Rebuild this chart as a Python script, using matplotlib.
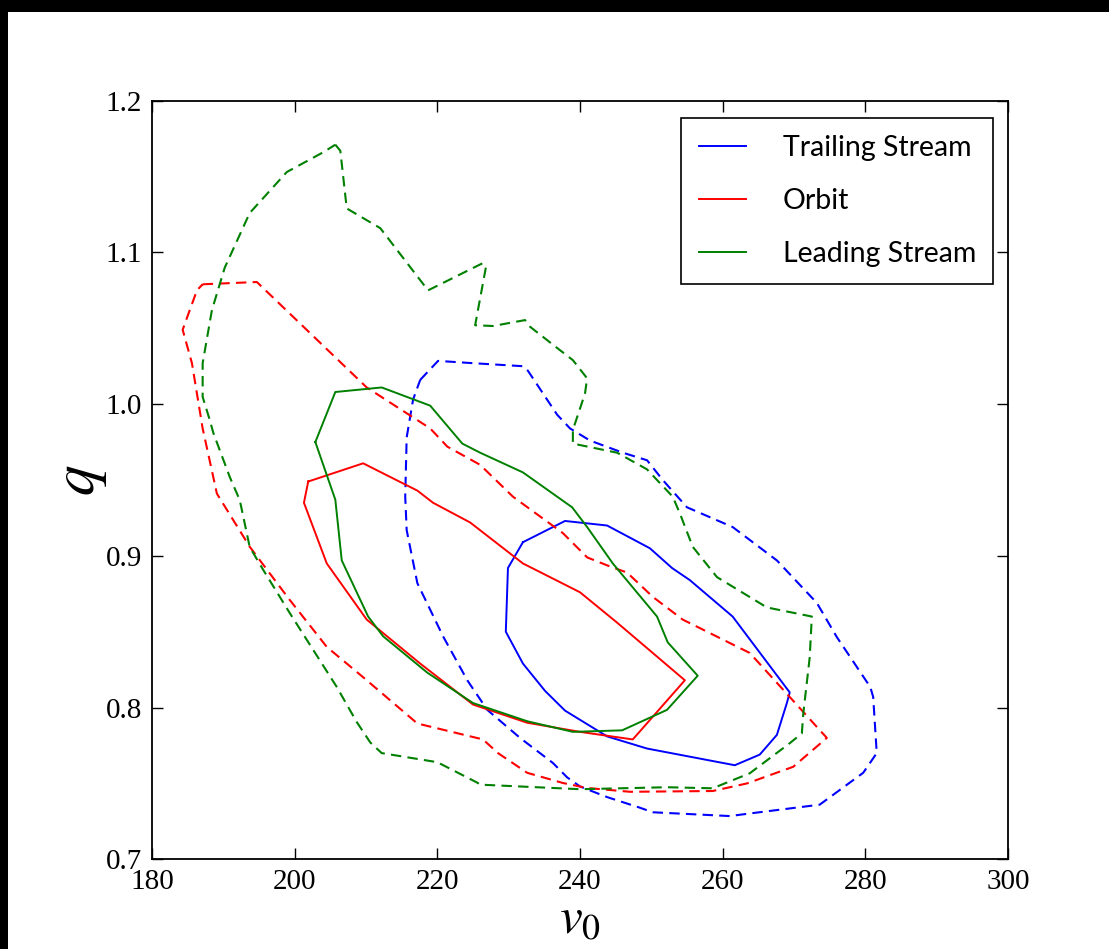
import matplotlib
matplotlib.use("Agg")
import matplotlib.pyplot as plt
from matplotlib.patches import Rectangle

# ---------------- data (v0, q) ----------------
# Trailing stream
trail_1s_v = [232.0, 237.9, 243.8, 249.8, 252.9, 255.4, 261.4, 269.4, 269.0, 267.6, 265.2, 261.7,
              249.4, 243.8, 237.9, 235.1, 232.0, 229.6, 229.9]
trail_1s_q = [0.909, 0.923, 0.920, 0.905, 0.892, 0.884, 0.860, 0.810, 0.803, 0.782, 0.769, 0.762,
              0.773, 0.781, 0.798, 0.811, 0.829, 0.850, 0.892]
trail_2s_v = [217.6, 220.1, 225.0, 232.0, 232.7, 236.8, 238.6, 241.4, 246.0, 249.4, 251.6, 255.0,
              261.4, 267.6, 273.2, 276.0, 280.7, 281.1, 281.6, 279.7, 273.6, 264.3, 261.0, 250.2,
              248.4, 243.8, 240.0, 238.2, 236.2, 231.6, 227.0, 224.2, 220.8, 217.2, 215.7, 215.5,
              215.7, 216.6]
trail_2s_q = [1.016, 1.0285, 1.027, 1.025, 1.022, 0.993, 0.984, 0.976, 0.968, 0.963, 0.950, 0.932,
              0.919, 0.897, 0.869, 0.8465, 0.8135, 0.807, 0.770, 0.757, 0.736, 0.7305, 0.7285, 0.731,
              0.734, 0.741, 0.748, 0.754, 0.7635, 0.780, 0.7985, 0.818, 0.847, 0.882, 0.917, 0.939,
              0.978, 1.003]

# Orbit
orbit_1s_v = [201.9, 209.6, 217.2, 219.4, 224.6, 232.0, 240.0, 245.2, 254.7, 247.4, 240.0, 232.6,
              225.0, 217.6, 210.1, 204.5, 201.3]
orbit_1s_q = [0.949, 0.961, 0.943, 0.935, 0.922, 0.895, 0.876, 0.856, 0.818, 0.779, 0.784, 0.790,
              0.802, 0.829, 0.858, 0.895, 0.935]
orbit_2s_v = [187.1, 194.7, 210.1, 219.0, 221.4, 226.0, 230.6, 237.6, 241.0, 244.2, 246.6, 250.2,
              254.4, 263.8, 269.4, 274.6, 269.9, 263.4, 258.6, 247.0, 241.0, 237.6, 232.6, 228.5,
              226.4, 219.4, 217.2, 209.6, 204.5, 199.3, 193.7, 189.1, 187.1, 185.6, 184.3, 184.6,
              186.3]
orbit_2s_q = [1.079, 1.0805, 1.011, 0.984, 0.972, 0.960, 0.939, 0.915, 0.899, 0.893, 0.889, 0.873,
              0.858, 0.836, 0.807, 0.780, 0.761, 0.750, 0.745, 0.7445, 0.747, 0.7503, 0.757, 0.770,
              0.779, 0.787, 0.7895, 0.820, 0.840, 0.871, 0.906, 0.941, 0.984, 1.027, 1.049, 1.053,
              1.075]

# Leading stream
lead_1s_v = [202.9, 205.7, 212.2, 219.0, 223.5, 226.0, 232.0, 238.9, 241.0, 244.6, 250.8, 252.3,
             256.5, 252.2, 245.9, 239.0, 232.6, 225.0, 218.6, 212.4, 210.3, 206.6, 205.7]
lead_1s_q = [0.975, 1.008, 1.011, 0.999, 0.974, 0.968, 0.955, 0.932, 0.919, 0.895, 0.860, 0.843,
             0.821, 0.7985, 0.785, 0.784, 0.791, 0.803, 0.823, 0.847, 0.860, 0.897, 0.937]
lead_2s_v = [205.7, 206.4, 207.3, 212.0, 218.7, 226.4, 226.8, 225.3, 227.8, 232.3, 233.0, 236.8,
             239.0, 241.0, 240.7, 239.0, 239.0, 245.2, 249.4, 253.0, 254.0, 255.8, 259.2, 266.2,
             272.5, 272.2, 271.3, 271.1, 269.4, 263.8, 258.6, 252.2, 240.0, 226.0, 225.6, 220.0,
             212.2, 210.6, 208.7, 205.9, 202.6, 199.3, 195.6, 193.7, 192.3, 190.9, 188.6, 188.1,
             187.1, 187.1, 188.4, 190.2, 193.7, 198.9, 204.0]
lead_2s_q = [1.171, 1.167, 1.129, 1.116, 1.075, 1.093, 1.090, 1.052, 1.0515, 1.0554, 1.051, 1.037,
             1.029, 1.017, 1.007, 0.983, 0.974, 0.968, 0.957, 0.939, 0.928, 0.906, 0.886, 0.866,
             0.860, 0.833, 0.796, 0.783, 0.7765, 0.7567, 0.7468, 0.7475, 0.7462, 0.7492, 0.7505, 0.764,
             0.770, 0.777, 0.7905, 0.8136, 0.838, 0.8624, 0.8907, 0.9058, 0.9368, 0.952, 0.981, 0.9895,
             1.0048, 1.027, 1.062, 1.090, 1.126, 1.153, 1.166]

labels = ["Trailing Stream", "Orbit", "Leading Stream"]
colors = ["blue", "red", "green"]
x_ticks = [180, 200, 220, 240, 260, 280, 300]
y_ticks = [0.7, 0.8, 0.9, 1.0, 1.1, 1.2]

# ---------------- styling ----------------
plt.rcParams["mathtext.fontset"] = "stix"
plt.rcParams["lines.scale_dashes"] = False

fig = plt.figure(figsize=(11.09, 9.49), dpi=100)
fig.patch.set_facecolor("white")
# black frame strips of the original screenshot
fig.add_artist(Rectangle((0, 1 - 12 / 949), 1, 12 / 949, transform=fig.transFigure,
                         facecolor="black", edgecolor="none", zorder=10))
fig.add_artist(Rectangle((0, 0), 8 / 1109, 1, transform=fig.transFigure,
                         facecolor="black", edgecolor="none", zorder=10))

ax = fig.add_axes([152 / 1109, 89.7 / 949, 856 / 1109, 758.6 / 949])


def closed(a):
    return list(a) + [a[0]]


dash = (0, (7.5, 4.5))
sets = [
    (trail_1s_v, trail_1s_q, trail_2s_v, trail_2s_q),
    (orbit_1s_v, orbit_1s_q, orbit_2s_v, orbit_2s_q),
    (lead_1s_v, lead_1s_q, lead_2s_v, lead_2s_q),
]
for (v1, q1, v2, q2), lab, col in zip(sets, labels, colors):
    ax.plot(closed(v1), closed(q1), color=col, lw=1.4, label=lab)
    ax.plot(closed(v2), closed(q2), color=col, lw=1.5, linestyle=dash)

ax.set_xlim(180, 300)
ax.set_ylim(0.7, 1.2)
ax.set_xticks(x_ticks)
ax.set_yticks(y_ticks)
ax.set_xticklabels([str(t) for t in x_ticks])
ax.set_yticklabels([f"{t:.1f}" for t in y_ticks])
ax.tick_params(direction="in", top=True, right=True, length=8, width=1,
               labelsize=21, pad=7)
for lab in ax.get_xticklabels() + ax.get_yticklabels():
    lab.set_family("Liberation Serif")
for s in ax.spines.values():
    s.set_linewidth(1.3)

ax.set_xlabel(r"$v_0$", fontsize=37, labelpad=0)
ax.set_ylabel(r"$q$", fontsize=44, labelpad=-2)

leg = ax.legend(loc="upper right", bbox_to_anchor=(0.9825, 0.9772), borderaxespad=0,
                prop={"family": "Lato", "size": 20.5}, fancybox=False, framealpha=1,
                edgecolor="black", handlelength=1.65, handletextpad=1.3, labelspacing=0.95,
                borderpad=0.6)
leg.get_frame().set_linewidth(1.2)

fig.savefig("out.png", dpi=100)
